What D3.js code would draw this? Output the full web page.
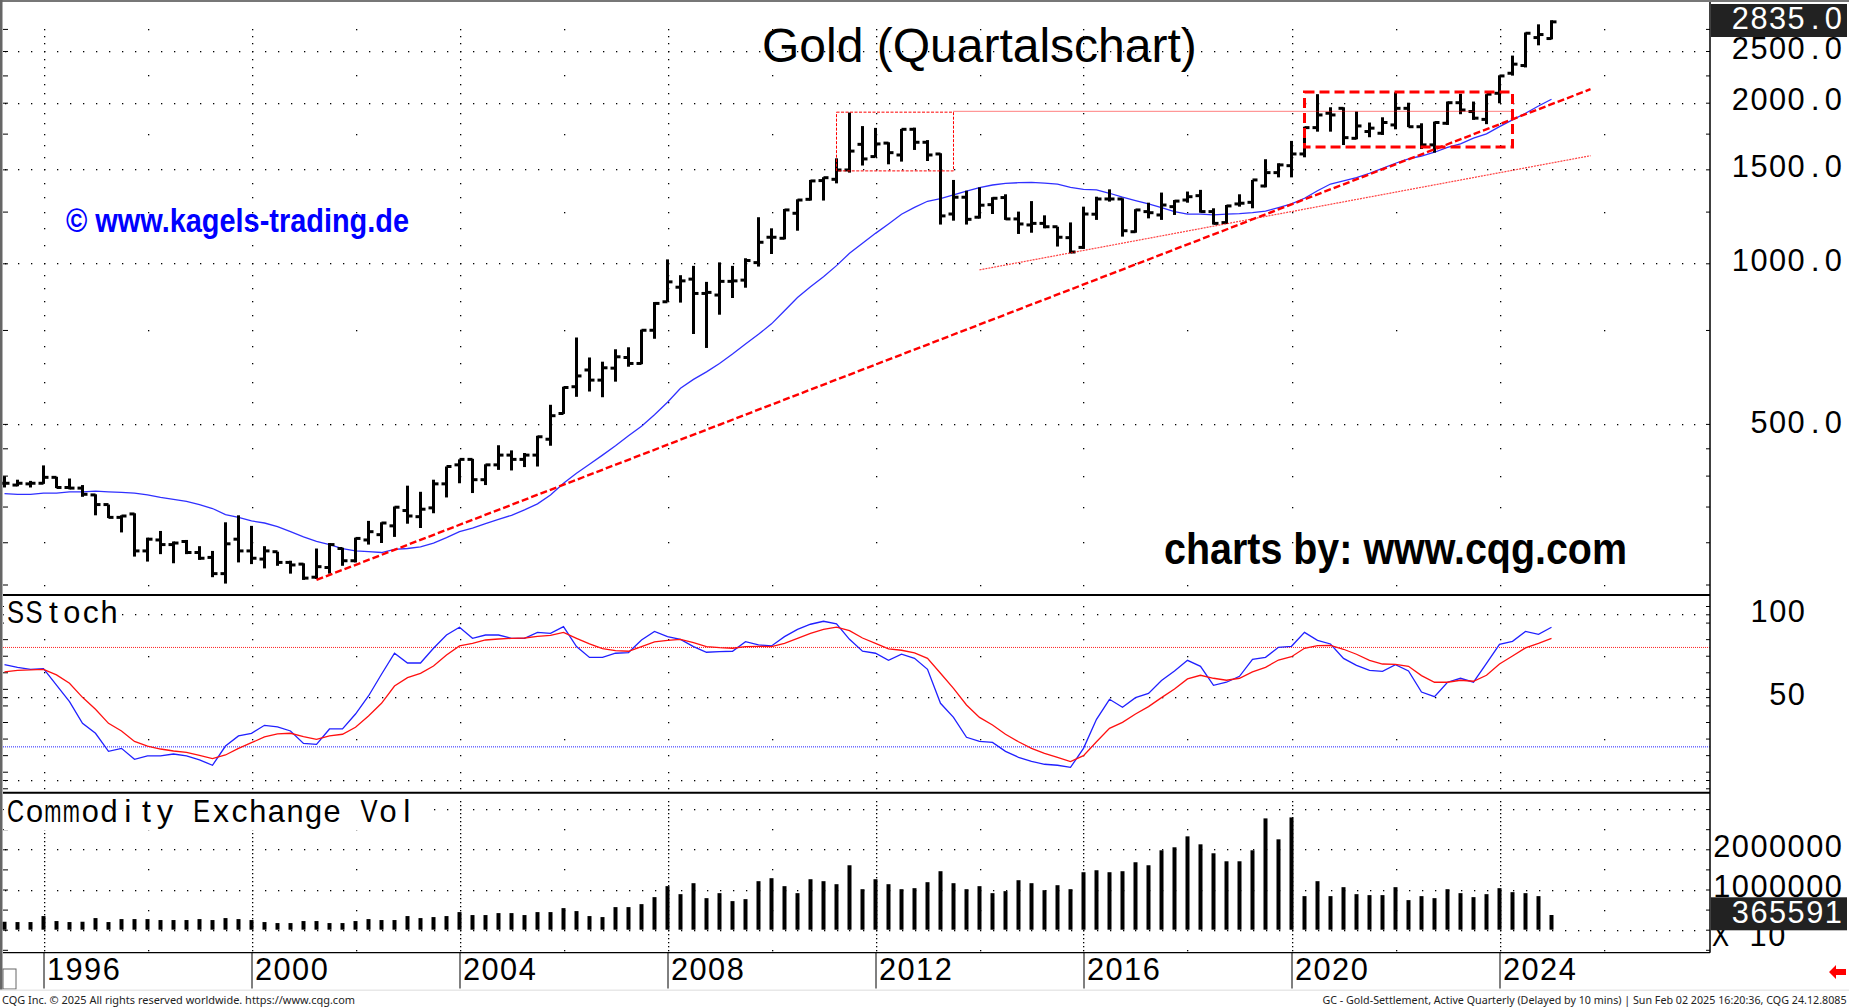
<!doctype html>
<html lang="de">
  <head>
    <meta charset="UTF-8" />
    <title>Gold (Quartalschart)</title>
    <style>
      body {
        margin: 0;
        overflow: hidden;
        background: #fff;
      }
      svg {
        display: block;
      }
      text {
        font-family: "Liberation Sans", Arial, sans-serif;
        white-space: pre;
      }
      .axis path {
        display: none;
      }
    </style>
  </head>
  <body>
    <script src="https://d3js.org/d3.v7.min.js"></script>
    <script>
      // quarterly bars, first bar is 1995 Q2, last is 2025 Q1
      const highs = [
        399, 393, 391, 418, 398, 395, 384, 369, 353, 337,
        340, 306, 315, 301, 303, 295, 289, 327, 337, 322,
        295, 288, 277, 274, 292, 299, 293, 306, 329, 327,
        350, 383, 373, 393, 416, 429, 430, 420, 456, 446,
        441, 475, 543, 587, 726, 666, 654, 690, 696, 751,
        846, 1017, 950, 989, 923, 1004, 989, 1022, 1220, 1163,
        1264, 1318, 1433, 1450, 1573, 1917, 1808, 1794, 1686, 1786,
        1796, 1702, 1608, 1433, 1368, 1388, 1330, 1347, 1250, 1308,
        1230, 1171, 1193, 1277, 1333, 1376, 1324, 1263, 1299, 1357,
        1314, 1363, 1373, 1268, 1286, 1347, 1433, 1567, 1540, 1696,
        1803, 2075, 1961, 1961, 1925, 1836, 1878, 2092, 2000, 1830,
        1843, 2010, 2079, 2010, 2075, 2251, 2451, 2708, 2805, 2855,
      ];
      const lows = [
        380, 382, 380, 386, 379, 377, 365, 337, 333, 313,
        282, 276, 285, 274, 285, 278, 258, 251, 275, 273,
        268, 271, 262, 255, 256, 262, 271, 275, 297, 299,
        307, 325, 319, 340, 364, 387, 371, 384, 410, 409,
        415, 416, 455, 522, 562, 575, 561, 600, 640, 647,
        722, 847, 844, 737, 694, 801, 861, 900, 986, 1041,
        1109, 1151, 1311, 1311, 1412, 1479, 1525, 1581, 1533, 1551,
        1631, 1555, 1182, 1202, 1182, 1213, 1237, 1206, 1135, 1141,
        1163, 1075, 1044, 1064, 1206, 1305, 1122, 1141, 1214, 1206,
        1232, 1299, 1244, 1182, 1185, 1277, 1268, 1388, 1449, 1449,
        1580, 1765, 1765, 1666, 1708, 1723, 1740, 1783, 1800, 1638,
        1612, 1817, 1903, 1857, 1823, 1995, 2248, 2329, 2562, 2629,
      ];
      const opens = [
        387, 384, 386, 387, 397, 380, 379, 368, 353, 334,
        339, 289, 303, 297, 301, 287, 281, 262, 304, 289,
        279, 288, 275, 273, 258, 269, 292, 277, 303, 310,
        322, 344, 335, 348, 386, 419, 429, 393, 419, 437,
        429, 437, 468, 523, 587, 631, 604, 636, 666, 649,
        749, 847, 902, 934, 878, 872, 925, 930, 1003, 1119,
        1114, 1241, 1318, 1429, 1437, 1496, 1671, 1585, 1680, 1596,
        1783, 1686, 1603, 1237, 1330, 1220, 1288, 1328, 1211, 1180,
        1188, 1171, 1117, 1071, 1236, 1320, 1320, 1146, 1250, 1232,
        1277, 1314, 1339, 1250, 1192, 1292, 1301, 1396, 1479, 1524,
        1603, 1796, 1911, 1952, 1715, 1766, 1753, 1817, 1952, 1803,
        1667, 1830, 2000, 1925, 1861, 2083, 2271, 2348, 2649, 2638,
      ];
      const closes = [
        387, 387, 387, 397, 380, 379, 369, 353, 334, 336,
        289, 304, 297, 299, 287, 280, 262, 298, 289, 280,
        289, 275, 272, 257, 270, 297, 277, 305, 314, 326,
        349, 336, 346, 386, 416, 429, 393, 419, 437, 429,
        437, 473, 518, 585, 615, 604, 637, 668, 649, 749,
        841, 923, 927, 878, 882, 925, 927, 1012, 1095, 1119,
        1259, 1314, 1427, 1447, 1496, 1623, 1569, 1674, 1612, 1783,
        1686, 1596, 1227, 1330, 1209, 1285, 1324, 1211, 1185, 1188,
        1171, 1119, 1050, 1237, 1320, 1320, 1151, 1259, 1244, 1286,
        1308, 1333, 1250, 1188, 1281, 1296, 1433, 1479, 1529, 1603,
        1796, 1897, 1897, 1720, 1809, 1792, 1836, 1952, 1803, 1667,
        1836, 2000, 1938, 1871, 2075, 2245, 2362, 2699, 2684, 2835,
      ];
      const movingAvg = [
        370, 369, 369, 371, 371, 373, 373, 374, 373, 372,
        371, 368, 364, 361, 358, 353, 347, 338, 334, 329,
        326, 321, 314, 307, 301, 297, 292, 289, 288, 287,
        291, 292, 294, 299, 306, 314, 319, 325, 331, 337,
        345, 354, 368, 387, 404, 420, 437, 455, 475, 495,
        520, 549, 583, 606, 626, 649, 676, 706, 736, 770,
        815, 863, 904, 944, 990, 1044, 1090, 1138, 1185, 1236,
        1273, 1307, 1322, 1343, 1366, 1386, 1402, 1412, 1416, 1418,
        1414, 1407, 1388, 1376, 1373, 1353, 1330, 1311, 1292, 1272,
        1250, 1236, 1236, 1232, 1236, 1239, 1244, 1253, 1272, 1292,
        1324, 1368, 1408, 1427, 1447, 1475, 1507, 1540, 1569, 1589,
        1615, 1650, 1674, 1716, 1748, 1804, 1857, 1911, 1972, 2030,
      ];
      const stochFast = [
        69.6, 68, 66.8, 67.2, 57.3, 47.3, 34.2, 28.2, 17.3, 19.1,
        12.5, 14.5, 14.5, 15.7, 14.5, 12.1, 8.9, 20.5, 26.6, 28.2,
        33, 32, 29.6, 22.1, 21.5, 30.8, 30.8, 39.8, 50.7, 63.8,
        76.5, 70.6, 70.6, 79.5, 87.5, 92.2, 85.5, 87.5, 87.5, 85.5,
        85.5, 89.1, 88.5, 92.6, 80.5, 74, 74, 76.5, 76.9, 84.5,
        89.7, 86.5, 84.9, 80.5, 77.1, 77.5, 77.7, 83.5, 81.5, 80.9,
        86.5, 90.9, 94, 95.8, 94.2, 84.9, 77.7, 76.5, 72.2, 75.9,
        73.4, 66.8, 46.3, 37.8, 25.8, 23.3, 22.7, 17.3, 13.7, 11.3,
        9.5, 8.9, 7.6, 19.1, 36.6, 48.7, 43.9, 49.7, 52.3, 60,
        65.8, 72.2, 68.6, 57.1, 59, 62.6, 72.8, 74, 80.1, 80.7,
        89.1, 84.3, 82.1, 73.4, 69.2, 66.2, 65.6, 69.6, 65.8, 53.1,
        50.3, 59, 61.4, 59, 70.4, 81.9, 83.7, 89.7, 87.9, 92.2,
      ];
      const stochSlow = [
        65.2, 66.2, 66.4, 66.8, 63.4, 58.4, 49.9, 42.7, 34.2, 29.6,
        23.3, 20.5, 18.7, 17.5, 16.7, 14.9, 12.9, 15.1, 19.1, 22.5,
        26, 27.8, 28.2, 26.2, 24.5, 26.6, 27.6, 31.8, 38.6, 46.3,
        56.7, 61.8, 64.4, 68.8, 75.5, 80.9, 82.5, 84.5, 85.1, 85.5,
        85.7, 86.7, 87.3, 89.1, 85.5, 82.1, 79.3, 78.1, 77.7, 80.5,
        83.3, 84.3, 84.9, 82.9, 80.5, 79.9, 79.5, 80.5, 80.7, 80.5,
        82.5, 85.5, 88.5, 90.9, 92.2, 90.1, 85.7, 82.5, 79.1, 78.3,
        76.7, 73.4, 64.4, 55.3, 45.3, 37.8, 33.2, 27.6, 23.1, 19.1,
        16.1, 13.7, 11.1, 14.7, 23.1, 31.2, 34.8, 39.8, 44.3, 49.7,
        54.9, 61, 63.2, 61.4, 60.2, 61.4, 65.2, 68, 72.4, 74.4,
        79.5, 81.1, 81.3, 78.9, 75.9, 72.2, 70, 69.8, 68.6, 63,
        59, 59, 60.2, 59.6, 63.2, 70, 74.8, 79.7, 82.5, 85.5,
      ];
      const volume = [
        198000, 190000, 190000, 339000, 215000, 190000, 198000, 289000, 190000, 264000,
        264000, 264000, 240000, 240000, 240000, 264000, 240000, 289000, 264000, 240000,
        190000, 165000, 165000, 215000, 215000, 165000, 165000, 215000, 264000, 240000,
        240000, 339000, 289000, 314000, 339000, 438000, 364000, 364000, 413000, 413000,
        364000, 438000, 438000, 537000, 463000, 339000, 314000, 562000, 562000, 636000,
        810000, 1083000, 884000, 1157000, 785000, 909000, 711000, 760000, 1207000, 1281000,
        1083000, 909000, 1256000, 1207000, 1132000, 1603000, 1008000, 1256000, 1132000, 1008000,
        1033000, 1182000, 1455000, 1157000, 1008000, 1083000, 909000, 959000, 1231000, 1157000,
        983000, 1107000, 1008000, 1430000, 1479000, 1430000, 1455000, 1678000, 1603000, 1975000,
        2050000, 2322000, 2124000, 1901000, 1702000, 1702000, 1975000, 2769000, 2248000, 2793000,
        835000, 1207000, 835000, 1058000, 884000, 860000, 860000, 1058000, 736000, 835000,
        785000, 1008000, 909000, 810000, 884000, 1033000, 934000, 909000, 835000, 365591,
      ];

      const yearLabels = [1996, 2000, 2004, 2008, 2012, 2016, 2020, 2024];
      const priceLabels = [2500, 2000, 1500, 1000, 500];
      const stochLabels = [100, 50];
      const volumeLabels = [2000000, 1000000];

      // drawn trend lines and boxes: [bar index, price]
      const mainTrend = [[24, 255], [122, 2120]];
      const thinTrend = [[75, 972], [122, 1591]];
      const resistance = [[73, 1927], [116, 1927]];
      const smallBox = [[64, 1920], [73, 1490]];
      const bigBox = [[100, 2095], [116, 1652]];

      const width = 1849;
      const height = 1008;
      const plotLeft = 3;
      const plotRight = 1710;
      const pitch = 18.6;

      const x = d3.scaleLinear().domain([0, 119]).range([4.5, 1551.5]);
      const yPrice = d3.scaleLog().domain([1000, 2000]).range([263.3, 102.7]);
      const yStoch = d3.scaleLinear().domain([0, 100]).range([780, 614.3]);
      const yVol = d3.scaleLinear().domain([0, 2000000]).range([929.7, 849.3]);

      const yearIndex = (yr) => (yr - 1995) * 4 - 1;
      const majorYears = d3.range(1996, 2025, 4).map(yearIndex);
      const midYears = d3.range(1998, 2027, 4).map(yearIndex);
      const allBars = d3.range(0, 131);

      const svg = d3
        .select("body")
        .append("svg")
        .attr("width", width)
        .attr("height", height);

      svg.append("rect").attr("width", width).attr("height", height).attr("fill", "#fff");

      // dotted grid, each dot one pixel
      const dots = svg.append("g").attr("fill", "#000");
      function dotGrid(y, majors, mids, minors) {
        const pts = [];
        majors.forEach((v) => allBars.forEach((i) => pts.push([i, v])));
        mids.forEach((v) => midYears.forEach((i) => pts.push([i, v])));
        minors.forEach((v) => majorYears.forEach((i) => pts.push([i, v])));
        dots
          .append("g")
          .selectAll("rect")
          .data(pts)
          .enter()
          .append("rect")
          .attr("x", (d) => Math.round(x(d[0])))
          .attr("y", (d) => Math.round(y(d[1])))
          .attr("width", 1.3)
          .attr("height", 1.3);
      }

      const priceMinor = d3
        .range(250, 1000, 50)
        .concat(d3.range(0, 22).map((k) => 1000 + (k * 250) / 3));
      dotGrid(yPrice, priceLabels, [250, 750, 1250, 1750, 2250, 2750], priceMinor);
      dotGrid(yStoch, [100, 50, 0], [75, 25], d3.range(-5, 106, 10));
      dotGrid(
        yVol,
        [0, 1000000, 2000000, 3000000],
        [-500000, 500000, 1500000, 2500000],
        d3.range(-500000, 3250000, 100000),
      );

      // small edge ticks on both sides of every panel
      function edgeTicks(y, values) {
        svg
          .append("g")
          .attr("class", "axis")
          .attr("transform", `translate(${plotRight},0)`)
          .call(d3.axisLeft(y).tickValues(values).tickSize(4).tickFormat(""));
        svg
          .append("g")
          .attr("class", "axis")
          .attr("transform", `translate(${plotLeft},0)`)
          .call(d3.axisRight(y).tickValues(values).tickSize(5).tickFormat(""));
      }
      edgeTicks(yPrice, [250, 300, 350, 400, 450, 500, 750, 1000, 1250, 1500, 1750, 2000, 2250, 2500, 2750]);
      edgeTicks(yStoch, d3.range(-5, 106, 10).concat([100, 50, 0]));
      edgeTicks(yVol, d3.range(-500000, 3250000, 500000));

      // stochastic levels
      const levels = svg.append("g").attr("stroke-width", 1).attr("stroke-dasharray", "1,1");
      levels
        .append("line")
        .attr("x1", plotLeft)
        .attr("x2", plotRight)
        .attr("y1", yStoch(80))
        .attr("y2", yStoch(80))
        .attr("stroke", "#ff2020");
      levels
        .append("line")
        .attr("x1", plotLeft)
        .attr("x2", plotRight)
        .attr("y1", yStoch(20))
        .attr("y2", yStoch(20))
        .attr("stroke", "#2020ff");

      const line = (y) =>
        d3
          .line()
          .x((d, i) => x(i))
          .y((d) => y(d));

      svg
        .append("path")
        .attr("d", line(yPrice)(movingAvg))
        .attr("fill", "none")
        .attr("stroke", "#3030ff")
        .attr("stroke-width", 1.3);

      // OHLC bars
      const bars = svg
        .append("g")
        .attr("stroke", "#000")
        .attr("stroke-width", 3)
        .selectAll("g")
        .data(highs.map((h, i) => ({ i, h, l: lows[i], o: opens[i], c: closes[i] })))
        .enter()
        .append("g");
      bars
        .append("line")
        .attr("x1", (d) => x(d.i))
        .attr("x2", (d) => x(d.i))
        .attr("y1", (d) => yPrice(d.h))
        .attr("y2", (d) => yPrice(d.l));
      bars
        .append("line")
        .attr("x1", (d) => x(d.i) - 5)
        .attr("x2", (d) => x(d.i))
        .attr("y1", (d) => yPrice(d.o))
        .attr("y2", (d) => yPrice(d.o));
      bars
        .append("line")
        .attr("x1", (d) => x(d.i))
        .attr("x2", (d) => x(d.i) + 5)
        .attr("y1", (d) => yPrice(d.c))
        .attr("y2", (d) => yPrice(d.c));

      // hand drawn trend lines and boxes
      const redLine = (pts, w, dash) =>
        svg
          .append("line")
          .attr("x1", x(pts[0][0]))
          .attr("y1", yPrice(pts[0][1]))
          .attr("x2", x(pts[1][0]))
          .attr("y2", yPrice(pts[1][1]))
          .attr("stroke", "#ff0000")
          .attr("stroke-width", w)
          .attr("stroke-dasharray", dash);
      const redBox = (pts, w, dash) =>
        svg
          .append("rect")
          .attr("x", x(pts[0][0]))
          .attr("y", yPrice(pts[0][1]))
          .attr("width", x(pts[1][0]) - x(pts[0][0]))
          .attr("height", yPrice(pts[1][1]) - yPrice(pts[0][1]))
          .attr("fill", "none")
          .attr("stroke", "#ff0000")
          .attr("stroke-width", w)
          .attr("stroke-dasharray", dash);

      redLine(mainTrend, 2.4, "7,3");
      redLine(thinTrend, 1.2, "2,1").attr("stroke-opacity", 0.75);
      redLine(resistance, 1, "1,1");
      redBox(smallBox, 1, "3,1.5");
      redBox(bigBox, 3, "10,5");

      // stochastic lines
      svg
        .append("path")
        .attr("d", line(yStoch)(stochFast))
        .attr("fill", "none")
        .attr("stroke", "#2020ff")
        .attr("stroke-width", 1.3);
      svg
        .append("path")
        .attr("d", line(yStoch)(stochSlow))
        .attr("fill", "none")
        .attr("stroke", "#ff1010")
        .attr("stroke-width", 1.3);

      // volume bars
      svg
        .append("g")
        .selectAll("rect")
        .data(volume)
        .enter()
        .append("rect")
        .attr("x", (d, i) => x(i) - 2)
        .attr("y", (d) => yVol(d))
        .attr("width", 4)
        .attr("height", (d) => yVol(0) - yVol(d))
        .attr("fill", "#000");

      // year ticks below the panels
      const yearAxis = d3
        .axisBottom(x)
        .tickValues(yearLabels.map(yearIndex))
        .tickSize(36)
        .tickFormat("");
      svg
        .append("g")
        .attr("class", "axis")
        .attr("transform", "translate(0,952.5)")
        .call(yearAxis);

      // panel frame
      const frame = svg.append("g").attr("stroke", "#000");
      [595, 792.7].forEach((yy) =>
        frame
          .append("line")
          .attr("x1", plotLeft)
          .attr("x2", plotRight)
          .attr("y1", yy)
          .attr("y2", yy)
          .attr("stroke-width", 2),
      );
      frame
        .append("line")
        .attr("x1", plotLeft)
        .attr("x2", plotRight)
        .attr("y1", 952.7)
        .attr("y2", 952.7)
        .attr("stroke-width", 1.2);
      frame
        .append("line")
        .attr("x1", plotRight)
        .attr("x2", plotRight)
        .attr("y1", 2)
        .attr("y2", 952.7)
        .attr("stroke-width", 1.5);
      svg.append("rect").attr("width", width).attr("height", 2).attr("fill", "#777");
      svg.append("rect").attr("y", 0).attr("width", 2.5).attr("height", 990).attr("fill", "#666");

      // CQG draws its captions on a fixed pitch, glyphs centred in the cell.
      // wide glyphs like m get squeezed into the cell
      const ctx = document.createElement("canvas").getContext("2d");
      function fixedText(str, left, base, opts) {
        const o = opts || {};
        const size = o.size || 32;
        ctx.font = `${size}px "Liberation Sans"`;
        const t = svg
          .append("text")
          .attr("y", base)
          .attr("font-size", size)
          .attr("fill", o.fill || "#000");
        Array.from(str).forEach((ch, i) => {
          const w = ctx.measureText(ch).width;
          const room = pitch - 1.5;
          const span = t
            .append("tspan")
            .attr("x", (left + i * pitch + Math.max(0, (pitch - w) / 2)).toFixed(1))
            .text(ch);
          if (w > room) {
            span.attr("textLength", room).attr("lengthAdjust", "spacingAndGlyphs");
          }
        });
        return t;
      }

      // captions sit on a white patch that hides the grid
      svg.append("rect").attr("x", 4).attr("y", 597).attr("width", 118).attr("height", 32).attr("fill", "#fff");
      svg.append("rect").attr("x", 4).attr("y", 794).attr("width", 422).attr("height", 36).attr("fill", "#fff");
      fixedText("SStoch", 7, 623);
      fixedText("Commodity Exchange Vol", 7, 821.7);

      yearLabels.forEach((yr) => fixedText(String(yr), x(yearIndex(yr)) + 3, 980));

      // right scale labels
      const priceBase = { 2500: 59.3, 2000: 110, 1500: 176.7, 1000: 270.7, 500: 433 };
      priceLabels.forEach((v) =>
        fixedText(
          v.toFixed(1),
          1843 - pitch * v.toFixed(1).length,
          priceBase[v],
        ),
      );
      stochLabels.forEach((v) =>
        fixedText(String(v), 1806 - pitch * String(v).length, yStoch(v) + 8),
      );
      volumeLabels.forEach((v) =>
        fixedText(String(v), 1843 - pitch * String(v).length, yVol(v) + 7.5),
      );
      fixedText("X 10", 1712, 945.7);

      // value tags, last price and last volume
      svg.append("rect").attr("x", 1711).attr("y", 4).attr("width", 136).attr("height", 33).attr("fill", "#222");
      fixedText(closes[closes.length - 1].toFixed(1), 1843 - pitch * 6, 29.3, { fill: "#fff" });
      svg.append("rect").attr("x", 1711).attr("y", 897.3).attr("width", 136).attr("height", 33).attr("fill", "#222");
      fixedText(String(volume[volume.length - 1]), 1843 - pitch * 6, 922.7, { fill: "#fff" });

      // annotations
      svg
        .append("text")
        .attr("x", 762)
        .attr("y", 62)
        .attr("font-size", 48)
        .text("Gold (Quartalschart)");
      svg
        .append("text")
        .attr("x", 66)
        .attr("y", 232.3)
        .attr("font-size", 33)
        .attr("font-weight", "bold")
        .attr("fill", "#0000ff")
        .attr("textLength", 343)
        .attr("lengthAdjust", "spacingAndGlyphs")
        .text("© www.kagels-trading.de");
      svg
        .append("text")
        .attr("x", 1164)
        .attr("y", 564)
        .attr("font-size", 45)
        .attr("font-weight", "bold")
        .attr("textLength", 463)
        .attr("lengthAdjust", "spacingAndGlyphs")
        .text("charts by: www.cqg.com");

      // bottom strip
      svg.append("rect").attr("x", 3).attr("y", 969).attr("width", 13).attr("height", 20).attr("fill", "#fff").attr("stroke", "#666");
      svg.append("rect").attr("y", 989.5).attr("width", width).attr("height", 1.5).attr("fill", "#e8e8e8");
      svg
        .append("text")
        .attr("x", 2)
        .attr("y", 1004)
        .attr("font-size", 11.5)
        .attr("fill", "#222")
        .style("font-family", '"Noto Sans"')
        .attr("textLength", 353)
        .attr("lengthAdjust", "spacingAndGlyphs")
        .text("CQG Inc. © 2025 All rights reserved worldwide. https://www.cqg.com");
      svg
        .append("text")
        .attr("x", 1322.5)
        .attr("y", 1004)
        .attr("font-size", 11.5)
        .attr("fill", "#222")
        .style("font-family", '"Noto Sans"')
        .attr("textLength", 524)
        .attr("lengthAdjust", "spacingAndGlyphs")
        .text("GC - Gold-Settlement, Active Quarterly (Delayed by 10 mins) | Sun Feb 02 2025 16:20:36, CQG 24.12.8085");

      // little red arrow bottom right
      svg
        .append("path")
        .attr("d", "M1829,972 l7,-7 v4 h10 v6 h-10 v4 z")
        .attr("fill", "#ff0000");
    </script>
  </body>
</html>
